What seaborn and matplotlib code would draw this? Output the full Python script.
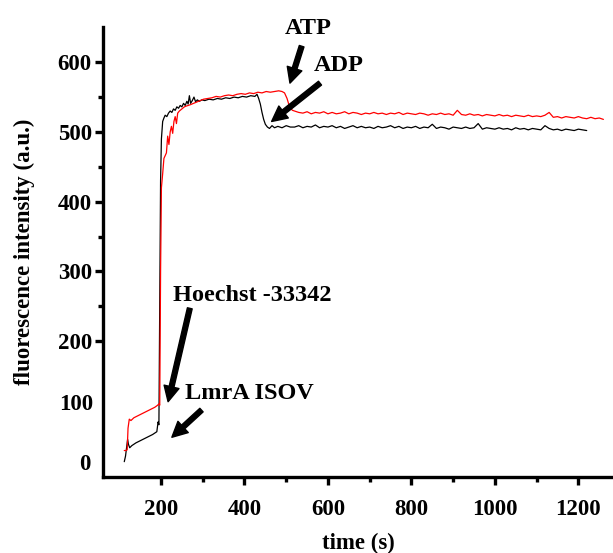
import numpy as np
import pandas as pd
import seaborn as sns
import matplotlib.pyplot as plt
from matplotlib.ticker import FixedLocator

# time (s) and fluorescence readings
black_t_start = [112, 115, 118, 120, 122, 125, 130, 140, 150, 160, 170, 180, 185, 190, 193,
                 195, 197, 199, 201, 204, 207, 210, 214, 218, 222, 226, 230, 234, 238, 242,
                 246, 250, 254, 258, 262, 265, 268, 271, 275, 279, 283, 287, 292, 298, 305,
                 315, 325, 335, 345, 355, 365, 375, 385, 395, 405, 415, 425, 430, 434, 438,
                 442, 446, 450, 455, 460, 466, 472, 480, 490, 500, 510]
black_v_start = [27, 35, 50, 59, 52, 47, 50, 54, 57, 60, 63, 66, 68, 70, 84,
                 80, 250, 430, 490, 515, 520, 524, 522, 527, 530, 528, 533, 531, 536, 534,
                 538, 536, 541, 538, 544, 540, 552, 541, 545, 550, 543, 546, 544, 546, 545,
                 547, 546, 548, 547, 549, 548, 550, 549, 551, 550, 552, 551, 554, 548, 540,
                 528, 518, 511, 507, 505, 509, 506, 508, 506, 509, 507]
black_t_tail = list(range(520, 1230, 10))
black_v_tail = [507, 509, 506, 508, 507, 510, 506, 508, 507,
                509, 506, 508, 505, 507, 509, 506, 508, 506, 507,
                505, 508, 506, 507, 509, 506, 508, 505, 507, 506,
                508, 505, 507, 506, 511, 505, 507, 506, 504, 507,
                506, 505, 507, 505, 506, 512, 504, 506, 505, 504,
                506, 504, 505, 503, 506, 504, 505, 503, 505, 504,
                503, 509, 505, 503, 504, 502, 504, 503, 502, 504, 503, 502]

red_t_start = [112, 116, 119, 121, 124, 128, 135, 145, 155, 165, 175, 185, 192, 195, 197,
               199, 201, 204, 207, 210, 213, 216, 219, 222, 225, 228, 231, 234, 237, 240,
               244, 248, 252, 256, 260, 265, 270, 278, 286, 294, 302, 312, 322, 332, 342,
               352, 362, 372, 382, 392, 402, 412, 422, 432, 442, 452, 462, 472, 482, 490,
               496, 502, 506, 510, 515, 520]
red_v_start = [43, 43, 44, 75, 88, 86, 90, 93, 96, 99, 102, 105, 108, 110, 108,
               300, 420, 440, 462, 466, 470, 494, 482, 500, 508, 498, 515, 522, 512, 527,
               530, 532, 534, 536, 537, 538, 539, 541, 543, 545, 547, 548, 549, 551, 550,
               552, 553, 552, 554, 555, 554, 556, 555, 557, 556, 558, 557, 558, 559, 558,
               556, 548, 540, 534, 531, 530]
red_t_tail = list(range(530, 1270, 10))
red_v_tail = [528, 527, 529, 526, 528, 527, 529, 526,
              528, 526, 527, 529, 526, 528, 527, 525, 527, 526,
              528, 526, 527, 525, 527, 526, 528, 525, 527, 526,
              525, 527, 526, 524, 526, 525, 527, 525, 526, 524,
              531, 525, 524, 526, 524, 525, 523, 525, 524, 523,
              525, 523, 524, 522, 524, 523, 522, 524, 522, 523,
              522, 524, 528, 521, 522, 520, 522, 521, 520, 522,
              520, 519, 521, 519, 520, 518]

black = pd.DataFrame({"time": black_t_start + black_t_tail,
                      "intensity": black_v_start + black_v_tail})
red = pd.DataFrame({"time": red_t_start + red_t_tail,
                    "intensity": red_v_start + red_v_tail})

sns.set_theme(style="ticks")
plt.rcParams['font.family'] = ['Liberation Serif', 'DejaVu Serif']
plt.rcParams['font.weight'] = 'bold'
for key in ['text.color', 'axes.labelcolor', 'xtick.color', 'ytick.color', 'axes.edgecolor']:
    plt.rcParams[key] = 'black'

fs = 16.5

fig = plt.figure(figsize=(6.13, 5.53), dpi=100)
ax = fig.add_axes([0.168, 0.1374, 0.832, 0.8131])

sns.lineplot(data=black, x="time", y="intensity", color="black", lw=0.9, ax=ax)
sns.lineplot(data=red, x="time", y="intensity", color="#ff0000", lw=0.9, ax=ax)

ax.set_xlim(61, 1283)
ax.set_ylim(5, 650)
sns.despine(ax=ax)
for s in ["left", "bottom"]:
    ax.spines[s].set_linewidth(2.4)

ax.xaxis.set_major_locator(FixedLocator([200, 400, 600, 800, 1000, 1200]))
ax.xaxis.set_minor_locator(FixedLocator([300, 500, 700, 900, 1100]))
ax.yaxis.set_major_locator(FixedLocator([200, 300, 400, 500, 600]))
ax.yaxis.set_minor_locator(FixedLocator([250, 350, 450, 550]))
ax.tick_params(which="major", length=6, width=2.4, labelsize=fs)
ax.tick_params(which="minor", length=3.5, width=2.4)
ax.tick_params(axis="x", which="major", pad=10)
ax.tick_params(axis="y", which="major", pad=2)
for lab in ax.get_xticklabels() + ax.get_yticklabels():
    lab.set_fontweight("bold")

# the two lowest labels sit without tick marks in the original
ytr = ax.get_yaxis_transform()
ax.text(-0.019, 109, "100", transform=ytr, ha="right", va="center", fontsize=fs, fontweight="bold")
ax.text(-0.025, 23, "0", transform=ytr, ha="right", va="center", fontsize=fs, fontweight="bold")

ax.set_xlabel("time (s)", fontsize=fs, fontweight="bold", labelpad=9)
ax.set_ylabel("fluorescence intensity (a.u.)", fontsize=fs, fontweight="bold", labelpad=16)

arrow = dict(facecolor="black", edgecolor="black", width=3.5, headwidth=11, headlength=11, shrink=0)
afs = 17.5
ax.annotate("", xy=(509, 570), xytext=(537, 623), arrowprops=arrow, annotation_clip=False)
ax.text(553, 648, "ATP", ha="center", va="center", fontsize=afs, fontweight="bold", clip_on=False)
ax.annotate("", xy=(465, 515), xytext=(581, 570), arrowprops=arrow, annotation_clip=False)
ax.text(625, 595, "ADP", ha="center", va="center", fontsize=afs, fontweight="bold")
ax.annotate("", xy=(217, 113), xytext=(269, 247), arrowprops=arrow, annotation_clip=False)
ax.text(229, 266, "Hoechst -33342", ha="left", va="center", fontsize=afs, fontweight="bold")
ax.annotate("", xy=(226, 62), xytext=(297, 101), arrowprops=arrow, annotation_clip=False)
ax.text(257, 125, "LmrA ISOV", ha="left", va="center", fontsize=afs, fontweight="bold")

fig.savefig("out.png", dpi=100)
